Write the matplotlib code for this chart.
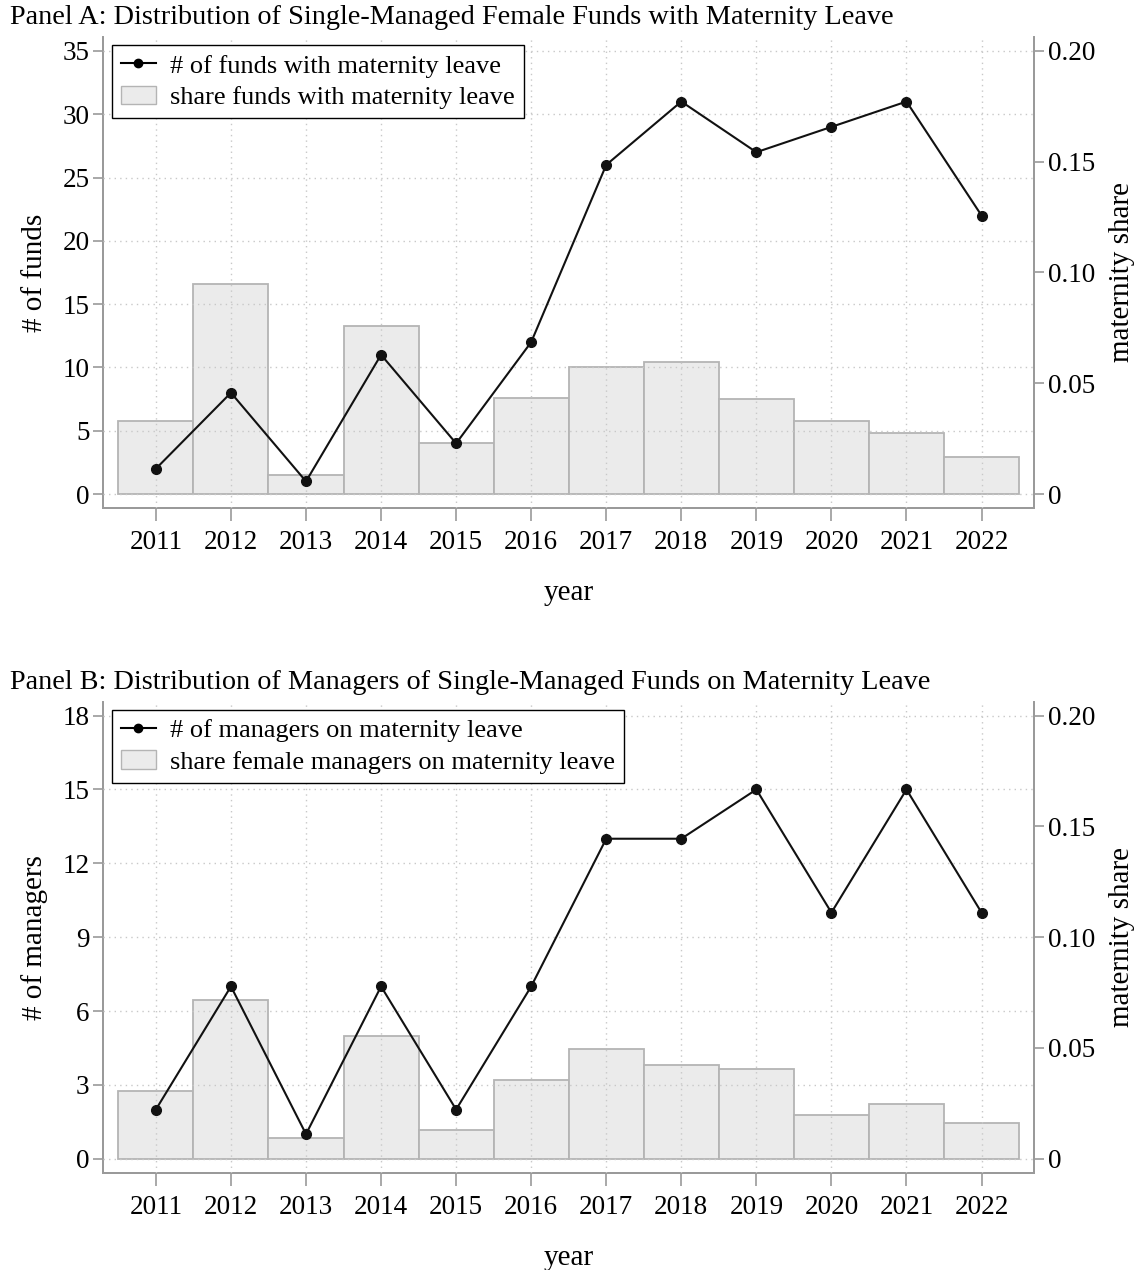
import matplotlib.pyplot as plt
from matplotlib.lines import Line2D
from matplotlib.patches import Patch

years = [2011, 2012, 2013, 2014, 2015, 2016, 2017, 2018, 2019, 2020, 2021, 2022]

# panel A: funds
funds_count = [2, 8, 1, 11, 4, 12, 26, 31, 27, 29, 31, 22]
funds_share = [0.033, 0.095, 0.0086, 0.076, 0.023, 0.0433, 0.0573, 0.0596, 0.0429, 0.033, 0.0275, 0.0167]

# panel B: managers
mgr_count = [2, 7, 1, 7, 2, 7, 13, 13, 15, 10, 15, 10]
mgr_share = [0.0307, 0.0718, 0.0095, 0.0555, 0.0131, 0.0357, 0.0497, 0.0424, 0.0406, 0.0199, 0.0248, 0.0163]

plt.rcParams['font.family'] = ['Liberation Serif', 'DejaVu Serif']

GRAY = '#9a9a9a'
BAR_FILL = '#ebebeb'
BAR_EDGE = '#b4b4b4'
FS = 19.5


def panel(fig, rect, title, counts, shares, ymax, ystep, ylabel, line_lab, bar_lab):
    ax = fig.add_axes(rect)
    ax2 = ax.twinx()
    ax.set_zorder(ax2.get_zorder() + 1)
    ax.patch.set_visible(False)

    ax2.bar(years, shares, width=1.0, color=BAR_FILL, edgecolor=BAR_EDGE, linewidth=1.3)
    ax.plot(years, counts, color='#111111', linewidth=1.5, marker='o', markersize=7, zorder=4)

    pad = ymax * 0.0315
    ax.set_ylim(-pad, ymax + pad)
    ax2.set_ylim(-0.2 * 0.0315, 0.2 * 1.0315)
    ax.set_xlim(2010.3, 2022.7)

    ax.set_yticks(range(0, ymax + 1, ystep))
    ax2.set_yticks([0, 0.05, 0.10, 0.15, 0.20])
    ax2.set_yticklabels(['0', '0.05', '0.10', '0.15', '0.20'])
    ax.set_xticks(years)

    ax.grid(True, color='#c8c8c8', linestyle=(0, (1, 3)), linewidth=1.0)
    ax.set_axisbelow(False)

    for a in (ax, ax2):
        a.spines['top'].set_visible(False)
        for s in ('left', 'right', 'bottom'):
            a.spines[s].set_color(GRAY)
            a.spines[s].set_linewidth(1.3)
        a.tick_params(colors=GRAY, labelcolor='black', labelsize=FS, length=7, width=1.2)
    ax.tick_params(axis='x', pad=7, length=9)
    ax.tick_params(axis='y', pad=3)
    ax2.tick_params(axis='y', pad=3)

    ax.set_xlabel('year', fontsize=21, labelpad=18)
    ax.set_ylabel(ylabel, fontsize=21, labelpad=10)
    ax2.set_ylabel('maternity share', fontsize=21, labelpad=10)

    handles = [
        Line2D([], [], color='black', marker='o', markersize=6, linewidth=1.5),
        Patch(facecolor=BAR_FILL, edgecolor=BAR_EDGE),
    ]
    leg = ax.legend(handles, [line_lab, bar_lab], loc='upper left',
                    bbox_to_anchor=(0.0093, 0.983), borderaxespad=0,
                    fontsize=19, fancybox=False, framealpha=1,
                    handlelength=1.3, handletextpad=0.55, labelspacing=0.3,
                    borderpad=0.35)
    leg.get_frame().set_edgecolor('black')
    leg.get_frame().set_linewidth(1.0)

    fig.text(0.009, rect[1] + rect[3] + 0.015, title, fontsize=20.3, va='center', ha='left')


fig = plt.figure(figsize=(11.42, 12.7), dpi=100)

panel(fig, [0.0905, 0.600, 0.815, 0.3709],
      'Panel A: Distribution of Single-Managed Female Funds with Maternity Leave',
      funds_count, funds_share, 35, 5, '# of funds',
      '# of funds with maternity leave', 'share funds with maternity leave')

panel(fig, [0.0905, 0.0766, 0.815, 0.3709],
      'Panel B: Distribution of Managers of Single-Managed Funds on Maternity Leave',
      mgr_count, mgr_share, 18, 3, '# of managers',
      '# of managers on maternity leave', 'share female managers on maternity leave')

fig.savefig('out.png', dpi=100)
